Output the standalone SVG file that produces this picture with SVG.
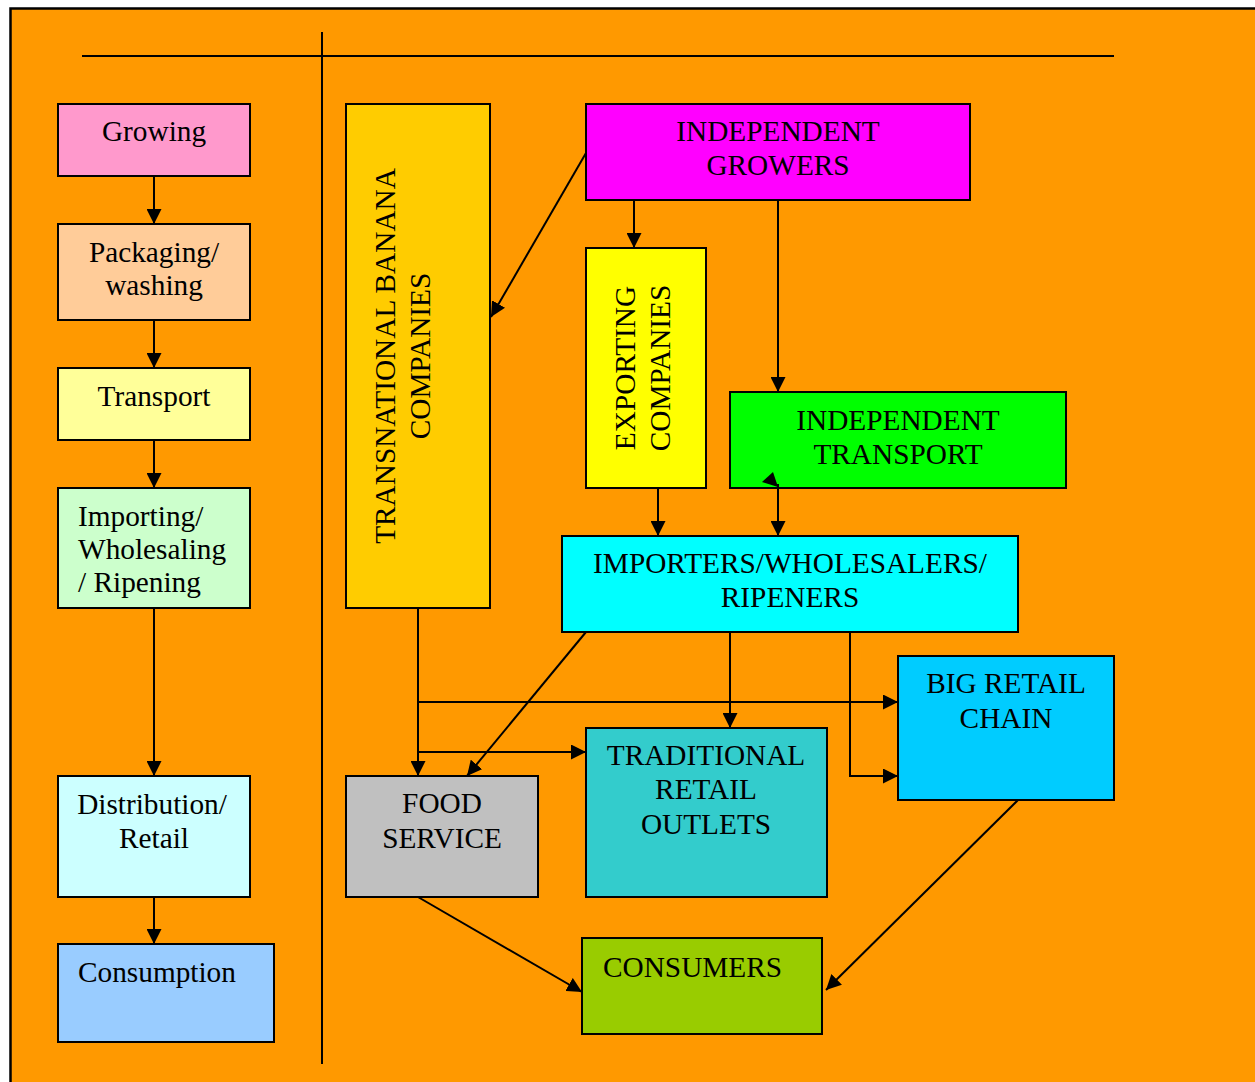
<svg xmlns="http://www.w3.org/2000/svg" width="1255" height="1082" viewBox="0 0 1255 1082">
<style>
.box{stroke:#000;stroke-width:2}
.t{font-family:"Liberation Serif","Times New Roman",serif;font-size:29.3px;fill:#000}
.c{text-anchor:middle}
.ln{stroke:#000;stroke-width:2;fill:none}
</style>
<defs>
<marker id="ah" markerUnits="userSpaceOnUse" markerWidth="15" markerHeight="15" refX="15" refY="7.5" orient="auto">
<path d="M0,0 L15,7.5 L0,15 z" fill="#000"/>
</marker>
</defs>
<rect x="0" y="0" width="1255" height="1082" fill="#fff"/>
<rect x="10.5" y="8.5" width="1260" height="1090" fill="#FF9900" stroke="#000" stroke-width="2.5"/>
<line x1="82" y1="56" x2="1114" y2="56" stroke="#000" stroke-width="2"/>
<line x1="322" y1="32" x2="322" y2="1064" stroke="#000" stroke-width="2"/>

<g id="growing"><rect class="box" x="58" y="104" width="192" height="72" fill="#FF99CC"/><text class="t c" x="154" y="141">Growing</text></g>
<g id="packaging"><rect class="box" x="58" y="224" width="192" height="96" fill="#FFCC99"/><text class="t c" x="154" y="262">Packaging/</text><text class="t c" x="154" y="295">washing</text></g>
<g id="transport"><rect class="box" x="58" y="368" width="192" height="72" fill="#FFFF99"/><text class="t c" x="154" y="406">Transport</text></g>
<g id="importing"><rect class="box" x="58" y="488" width="192" height="120" fill="#CCFFCC"/><text class="t" x="78" y="526">Importing/</text><text class="t" x="78" y="559">Wholesaling</text><text class="t" x="78" y="592">/ Ripening</text></g>
<g id="distribution"><rect class="box" x="58" y="776" width="192" height="121" fill="#CCFFFF"/><text class="t c" x="152" y="814">Distribution/</text><text class="t c" x="154" y="848">Retail</text></g>
<g id="consumption"><rect class="box" x="58" y="944" width="216" height="98" fill="#99CCFF"/><text class="t" x="78" y="982">Consumption</text></g>

<g id="transnational"><rect class="box" x="346" y="104" width="144" height="504" fill="#FFCC00"/><text class="t c" transform="translate(395,356) rotate(-90)">TRANSNATIONAL BANANA</text><text class="t c" transform="translate(430,356) rotate(-90)">COMPANIES</text></g>
<g id="ind-growers"><rect class="box" x="586" y="104" width="384" height="96" fill="#FF00FF"/><text class="t c" x="778" y="141">INDEPENDENT</text><text class="t c" x="778" y="175">GROWERS</text></g>
<g id="exporting"><rect class="box" x="586" y="248" width="120" height="240" fill="#FFFF00"/><text class="t c" transform="translate(635,368) rotate(-90)">EXPORTING</text><text class="t c" transform="translate(670,368) rotate(-90)">COMPANIES</text></g>
<g id="ind-transport"><rect class="box" x="730" y="392" width="336" height="96" fill="#00FF00"/><text class="t c" x="898" y="430">INDEPENDENT</text><text class="t c" x="898" y="464">TRANSPORT</text></g>
<g id="importers"><rect class="box" x="562" y="536" width="456" height="96" fill="#00FFFF"/><text class="t c" x="790" y="573">IMPORTERS/WHOLESALERS/</text><text class="t c" x="790" y="607">RIPENERS</text></g>
<g id="big-retail"><rect class="box" x="898" y="656" width="216" height="144" fill="#00CCFF"/><text class="t c" x="1006" y="693">BIG RETAIL</text><text class="t c" x="1006" y="728">CHAIN</text></g>
<g id="food-service"><rect class="box" x="346" y="776" width="192" height="121" fill="#C0C0C0"/><text class="t c" x="442" y="813">FOOD</text><text class="t c" x="442" y="848">SERVICE</text></g>
<g id="traditional"><rect class="box" x="586" y="728" width="241" height="169" fill="#33CCCC"/><text class="t c" x="706" y="765">TRADITIONAL</text><text class="t c" x="706" y="799">RETAIL</text><text class="t c" x="706" y="834">OUTLETS</text></g>
<g id="consumers"><rect class="box" x="582" y="938" width="240" height="96" fill="#99CC00"/><text class="t" x="603" y="977">CONSUMERS</text></g>

<g id="connectors">
<path class="ln" d="M154,176 V224" marker-end="url(#ah)"/>
<path class="ln" d="M154,320 V368" marker-end="url(#ah)"/>
<path class="ln" d="M154,440 V488" marker-end="url(#ah)"/>
<path class="ln" d="M154,608 V776" marker-end="url(#ah)"/>
<path class="ln" d="M154,897 V944" marker-end="url(#ah)"/>
<path class="ln" d="M586,153 L491,317" marker-end="url(#ah)"/>
<path class="ln" d="M634,200 V248" marker-end="url(#ah)"/>
<path class="ln" d="M778,200 V392" marker-end="url(#ah)"/>
<path class="ln" d="M658,488 V536" marker-end="url(#ah)"/>
<path class="ln" d="M778,484 V536" marker-end="url(#ah)"/>
<polygon points="773,472 762,482 778,487" fill="#000"/>
<path class="ln" d="M418,608 V776" marker-end="url(#ah)"/>
<path class="ln" d="M418,702 H898" marker-end="url(#ah)"/>
<path class="ln" d="M418,752 H586" marker-end="url(#ah)"/>
<path class="ln" d="M586,632 L467,776" marker-end="url(#ah)"/>
<path class="ln" d="M730,632 V728" marker-end="url(#ah)"/>
<path class="ln" d="M850,632 V776 H898" marker-end="url(#ah)"/>
<path class="ln" d="M418,897 L582,992" marker-end="url(#ah)"/>
<path class="ln" d="M1018,800 L826,990" marker-end="url(#ah)"/>
</g>
</svg>
